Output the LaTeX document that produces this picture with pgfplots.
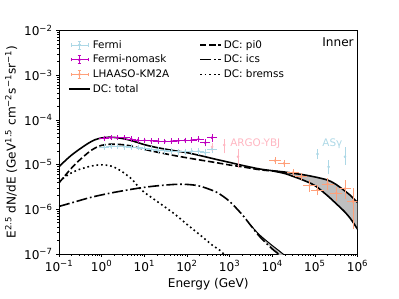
\documentclass[border=0pt]{standalone}
\usepackage{fontspec}
\setmainfont{DejaVu Sans}
\usepackage{pgfplots}
\pgfplotsset{compat=1.18}
\definecolor{fermiblue}{HTML}{ADD8E6}
\definecolor{nomask}{HTML}{BF00BF}
\definecolor{lhaaso}{HTML}{FFA07A}
\definecolor{argo}{HTML}{FFB6C1}
\definecolor{bandgray}{HTML}{BFBFBF}
\pgfplotsset{
 errleg/.style={legend image code/.code={
   \draw[#1,line width=0.7pt] (2pt,0pt) -- (19pt,0pt) (10.5pt,-4pt) -- (10.5pt,4pt)
     (2pt,-1.8pt) -- (2pt,1.8pt) (19pt,-1.8pt) -- (19pt,1.8pt)
     (8.7pt,4pt) -- (12.3pt,4pt) (8.7pt,-4pt) -- (12.3pt,-4pt);
   \fill[#1] (10.5pt,0pt) circle (1.3pt);}},
 errstyle/.style={only marks, mark=*, mark size=1.1pt, forget plot,
   error bars/x dir=both, error bars/y dir=both,
   error bars/x explicit relative, error bars/y explicit,
   error bars/error bar style={line width=0.7pt},
   error bars/error mark options={line width=0.7pt, mark size=1.8pt}},
 errstyleY/.style={only marks, mark=*, mark size=1.1pt, forget plot,
   error bars/y dir=both, error bars/y explicit,
   error bars/error bar style={line width=0.7pt},
   error bars/error mark options={line width=0.7pt, mark size=1.8pt}},
 dashedc/.style={line width=1.6pt, dash pattern=on 6.4pt off 2.8pt},
 dashdotc/.style={line width=1.6pt, dash pattern=on 11pt off 2.8pt on 1.7pt off 2.8pt},
 dottedc/.style={line width=1.6pt, dash pattern=on 1.7pt off 2.9pt},
 solidc/.style={line width=1.6pt},
}
\begin{document}
\begin{tikzpicture}
\useasboundingbox (-59pt,-45pt) rectangle (340pt,254pt);
\begin{axis}[
 at={(0pt,0pt)}, anchor=south west,
 scale only axis, width=298.5pt, height=223.5pt,
 xmode=log, ymode=log, log basis x=10, log basis y=10,
 xmin=0.1, xmax=1e6, ymin=1e-7, ymax=1e-2,
 xtick={1e-1,1e0,1e1,1e2,1e3,1e4,1e5,1e6},
 xticklabels={10\textsuperscript{−1},10\textsuperscript{0},10\textsuperscript{1},10\textsuperscript{2},10\textsuperscript{3},10\textsuperscript{4},10\textsuperscript{5},10\textsuperscript{6}},
 ytick={1e-7,1e-6,1e-5,1e-4,1e-3,1e-2},
 yticklabels={10\textsuperscript{−7},10\textsuperscript{−6},10\textsuperscript{−5},10\textsuperscript{−4},10\textsuperscript{−3},10\textsuperscript{−2}},
 minor xtick={0.2,0.3,0.4,0.5,0.6,0.7,0.8,0.9,2,3,4,5,6,7,8,9,20,30,40,50,60,70,80,90,200,300,400,500,600,700,800,900,2000,3000,4000,5000,6000,7000,8000,9000,20000,30000,40000,50000,60000,70000,80000,90000,200000,300000,400000,500000,600000,700000,800000,900000},
 minor ytick={2e-7,3e-7,4e-7,5e-7,6e-7,7e-7,8e-7,9e-7,2e-6,3e-6,4e-6,5e-6,6e-6,7e-6,8e-6,9e-6,2e-5,3e-5,4e-5,5e-5,6e-5,7e-5,8e-5,9e-5,2e-4,3e-4,4e-4,5e-4,6e-4,7e-4,8e-4,9e-4,2e-3,3e-3,4e-3,5e-3,6e-3,7e-3,8e-3,9e-3},
 tick align=outside, xtick pos=bottom, ytick pos=left,
 major tick length=3pt, minor tick length=1.7pt,
 every tick/.style={black, line width=0.7pt},
 axis line style={line width=0.7pt},
 tick label style={font=\fontsize{12.1}{14}\selectfont},
 label style={font=\fontsize{12.1}{14}\selectfont},
 xlabel={Energy (GeV)},
 ylabel={E\textsuperscript{2.5} dN/dE (GeV\textsuperscript{1.5} cm\textsuperscript{−2}s\textsuperscript{−1}sr\textsuperscript{−1})},
 legend columns=2,
 legend cell align=left,
 legend image code/.code={\draw[#1] (0pt,0pt) -- (21pt,0pt);},
 legend style={at={(axis description cs:0.02,0.975)}, anchor=north west, draw=none, fill=none,
   font=\fontsize{10.4}{12}\selectfont, row sep=1.3pt,
   /tikz/every even column/.append style={column sep=28pt}},
]
% total band
\addplot[fill=bandgray, draw=none, forget plot] coordinates {
 (1e4,7.3e-6)(2e4,6.8e-6)(3e4,6.4e-6)(5e4,6.0e-6)(1e5,5.3e-6)(2e5,4.5e-6)(3e5,3.7e-6)(5e5,2.6e-6)(7e5,2.0e-6)(1e6,1.42e-6)
 (1e6,3.6e-7)(7e5,6.0e-7)(5e5,8.8e-7)(3e5,1.4e-6)(2e5,2.0e-6)(1e5,3.4e-6)(5e4,4.6e-6)(3e4,5.5e-6)(2e4,6.3e-6)(1e4,7.3e-6)} -- cycle;
% ics band
\addplot[fill=bandgray, draw=none, forget plot] coordinates {
 (3000,4.6e-7)(5000,2.7e-7)(1e4,1.55e-7)(1.5e4,1.15e-7)(2.2e4,8.5e-8)(1.6e4,8e-8)(1.4e4,1.0e-7)(1e4,1.3e-7)(5000,2.5e-7)(3000,4.6e-7)} -- cycle;
\addplot[black, line width=1pt, smooth, forget plot] coordinates {
 (3000,4.6e-7)(5000,2.7e-7)(1e4,1.55e-7)(1.5e4,1.15e-7)(2.2e4,8.5e-8)};
% pi0
\addplot[black, dashedc, smooth, forget plot] coordinates {
 (0.1,3.9e-6)(0.15,6.2e-6)(0.2,8.5e-6)(0.3,1.25e-5)(0.5,1.9e-5)(0.7,2.35e-5)(1,2.7e-5)(1.5,2.85e-5)(2,2.85e-5)(3,2.8e-5)(5,2.6e-5)(10,2.2e-5)(20,1.9e-5)(50,1.6e-5)(100,1.42e-5)(200,1.27e-5)(500,1.1e-5)(1000,9.8e-6)(2000,8.9e-6)(5000,7.7e-6)(1e4,7.2e-6)(2e4,6.75e-6)};
% ics
\addplot[black, dashdotc, smooth, forget plot] coordinates {
 (0.1,1.16e-6)(0.2,1.4e-6)(0.5,1.8e-6)(1,2.1e-6)(2,2.4e-6)(5,2.8e-6)(10,3.1e-6)(20,3.35e-6)(50,3.6e-6)(100,3.6e-6)(200,3.3e-6)(500,2.4e-6)(1000,1.5e-6)(2000,7.5e-7)(3000,4.6e-7)(5000,2.5e-7)(1e4,1.3e-7)(1.4e4,1.0e-7)(1.6e4,8e-8)};
% bremss
\addplot[black, dottedc, smooth, forget plot] coordinates {
 (0.1,4.2e-6)(0.15,5.6e-6)(0.2,6.6e-6)(0.3,7.8e-6)(0.5,9.0e-6)(0.7,9.6e-6)(1,9.9e-6)(1.5,9.5e-6)(2,8.7e-6)(3,7.0e-6)(5,4.8e-6)(7.5,3.1e-6)(10,2.4e-6)(20,1.5e-6)(50,8.0e-7)(100,4.6e-7)(200,2.7e-7)(400,1.56e-7)(600,1.2e-7)(800,9e-8)};
% total
\addplot[black, solidc, smooth, forget plot] coordinates {
 (0.1,9.0e-6)(0.15,1.3e-5)(0.2,1.65e-5)(0.3,2.2e-5)(0.5,3.05e-5)(0.7,3.6e-5)(1,3.95e-5)(1.5,4.1e-5)(2,4.05e-5)(3,3.85e-5)(5,3.45e-5)(10,2.8e-5)(20,2.4e-5)(50,2.05e-5)(100,1.85e-5)(200,1.6e-5)(500,1.3e-5)(1000,1.12e-5)(2000,9.6e-6)(5000,8.0e-6)(1e4,7.3e-6)(2e4,6.8e-6)(3e4,6.4e-6)(5e4,6.0e-6)(1e5,5.3e-6)(2e5,4.5e-6)(3e5,3.7e-6)(5e5,2.6e-6)(7e5,2.0e-6)(1e6,1.42e-6)};
\addplot[black, solidc, smooth, forget plot] coordinates {
 (1e4,7.3e-6)(2e4,6.3e-6)(3e4,5.5e-6)(5e4,4.6e-6)(1e5,3.4e-6)(2e5,2.0e-6)(3e5,1.4e-6)(5e5,8.8e-7)(7e5,6.0e-7)(1e6,3.6e-7)};
% Fermi
\addplot[color=fermiblue, errstyle] coordinates {
 (1.148,2.45e-5) += (0.2,0.12e-5) -= (0.166,0.12e-5)
 (1.652,2.55e-5) += (0.2,0.12e-5) -= (0.166,0.12e-5)
 (2.377,2.55e-5) += (0.2,0.12e-5) -= (0.166,0.12e-5)
 (3.420,2.5e-5) += (0.2,0.12e-5) -= (0.166,0.12e-5)
 (4.920,2.45e-5) += (0.2,0.12e-5) -= (0.166,0.12e-5)
 (7.079,2.4e-5) += (0.2,0.12e-5) -= (0.166,0.12e-5)
 (10.19,2.3e-5) += (0.2,0.12e-5) -= (0.166,0.12e-5)
 (14.66,2.2e-5) += (0.2,0.12e-5) -= (0.166,0.12e-5)
 (21.09,2.1e-5) += (0.2,0.12e-5) -= (0.166,0.12e-5)
 (30.34,2.05e-5) += (0.2,0.12e-5) -= (0.166,0.12e-5)
 (43.65,2.0e-5) += (0.2,0.12e-5) -= (0.166,0.12e-5)
 (62.81,1.95e-5) += (0.2,0.12e-5) -= (0.166,0.12e-5)
 (90.36,1.95e-5) += (0.2,0.12e-5) -= (0.166,0.12e-5)
 (130.0,2.0e-5) += (0.2,0.14e-5) -= (0.166,0.14e-5)
 (187.1,2.0e-5) += (0.2,0.16e-5) -= (0.166,0.16e-5)
 (269.2,1.85e-5) += (0.2,0.18e-5) -= (0.166,0.18e-5)
 (387.3,2.2e-5) += (0.2,0.25e-5) -= (0.166,0.25e-5)
};
% Fermi-nomask
\addplot[color=nomask, errstyle] coordinates {
 (1.148,3.9e-5) += (0.2,0.15e-5) -= (0.166,0.15e-5)
 (1.652,4.0e-5) += (0.2,0.15e-5) -= (0.166,0.15e-5)
 (2.377,4.0e-5) += (0.2,0.15e-5) -= (0.166,0.15e-5)
 (3.420,4.0e-5) += (0.2,0.15e-5) -= (0.166,0.15e-5)
 (4.920,3.75e-5) += (0.2,0.15e-5) -= (0.166,0.15e-5)
 (7.079,3.55e-5) += (0.2,0.15e-5) -= (0.166,0.15e-5)
 (10.19,3.5e-5) += (0.2,0.15e-5) -= (0.166,0.15e-5)
 (14.66,3.4e-5) += (0.2,0.15e-5) -= (0.166,0.15e-5)
 (21.09,3.35e-5) += (0.2,0.15e-5) -= (0.166,0.15e-5)
 (30.34,3.3e-5) += (0.2,0.15e-5) -= (0.166,0.15e-5)
 (43.65,3.35e-5) += (0.2,0.15e-5) -= (0.166,0.15e-5)
 (62.81,3.4e-5) += (0.2,0.15e-5) -= (0.166,0.15e-5)
 (90.36,3.5e-5) += (0.2,0.17e-5) -= (0.166,0.17e-5)
 (130.0,3.55e-5) += (0.2,0.2e-5) -= (0.166,0.2e-5)
 (187.1,3.7e-5) += (0.2,0.25e-5) -= (0.166,0.25e-5)
 (269.2,3.1e-5) += (0.2,0.3e-5) -= (0.166,0.3e-5)
 (387.3,4.0e-5) += (0.2,0.4e-5) -= (0.166,0.4e-5)
};
% ARGO-YBJ
\addplot[color=argo, errstyleY] coordinates {
 (390,2.5e-5) += (0,0.3e-5) -= (0,0.3e-5)
 (750,2.75e-5) += (0,0.6e-5) -= (0,0.8e-5)
 (1585,1.5e-5) += (0,0.5e-5) -= (0,0.6e-5)
};
% ASgamma
\addplot[color=fermiblue, errstyleY] coordinates {
 (1.15e5,1.73e-5) += (0,0.28e-5) -= (0,0.27e-5)
 (2.1e5,8.9e-6) += (0,2.6e-6) -= (0,2.2e-6)
 (5.1e5,1.5e-5) += (0,0.7e-5) -= (0,0.4e-5)
};
% LHAASO-KM2A
\addplot[color=lhaaso, errstyle] coordinates {
 (1.17e4,1.23e-5) += (0.259,0.1e-5) -= (0.206,0.1e-5)
 (1.9e4,1.07e-5) += (0.259,0.09e-5) -= (0.206,0.09e-5)
 (3.1e4,6.6e-6) += (0.259,0.5e-6) -= (0.206,0.5e-6)
 (4.7e4,5.4e-6) += (0.259,0.45e-6) -= (0.206,0.45e-6)
 (7.5e4,3.4e-6) += (0.259,0.7e-6) -= (0.206,0.7e-6)
 (1.15e5,2.7e-6) += (0.259,0.45e-6) -= (0.206,0.45e-6)
 (2.0e5,3.7e-6) += (0.259,0.8e-6) -= (0.206,0.8e-6)
 (3.2e5,2.3e-6) += (0.259,0.6e-6) -= (0.206,0.6e-6)
 (5.1e5,2.9e-6) += (0.259,1.2e-6) -= (0.206,1.0e-6)
 (7.8e5,1.5e-6) += (0.259,1.2e-6) -= (0.206,1.1e-6)
};
\addlegendimage{errleg=fermiblue}\addlegendentry{Fermi}
\addlegendimage{black, dashedc}\addlegendentry{DC: pi0}
\addlegendimage{errleg=nomask}\addlegendentry{Fermi-nomask}
\addlegendimage{black, dashdotc}\addlegendentry{DC: ics}
\addlegendimage{errleg=lhaaso}\addlegendentry{LHAASO-KM2A}
\addlegendimage{black, dottedc}\addlegendentry{DC: bremss}
\addlegendimage{black, solidc}\addlegendentry{DC: total}
\node[anchor=west, inner sep=0pt, text=argo, font=\fontsize{10.4}{12}\selectfont] at (axis cs:1030,3.0e-5) {ARGO-YBJ};
\node[anchor=west, inner sep=0pt, text=fermiblue, font=\fontsize{10.4}{12}\selectfont] at (axis cs:1.49e5,3.0e-5) {ASγ};
\node[anchor=east, inner sep=0pt, font=\fontsize{12.1}{14}\selectfont] at (axis description cs:0.988,0.946) {Inner};
\end{axis}
\end{tikzpicture}
\end{document}
